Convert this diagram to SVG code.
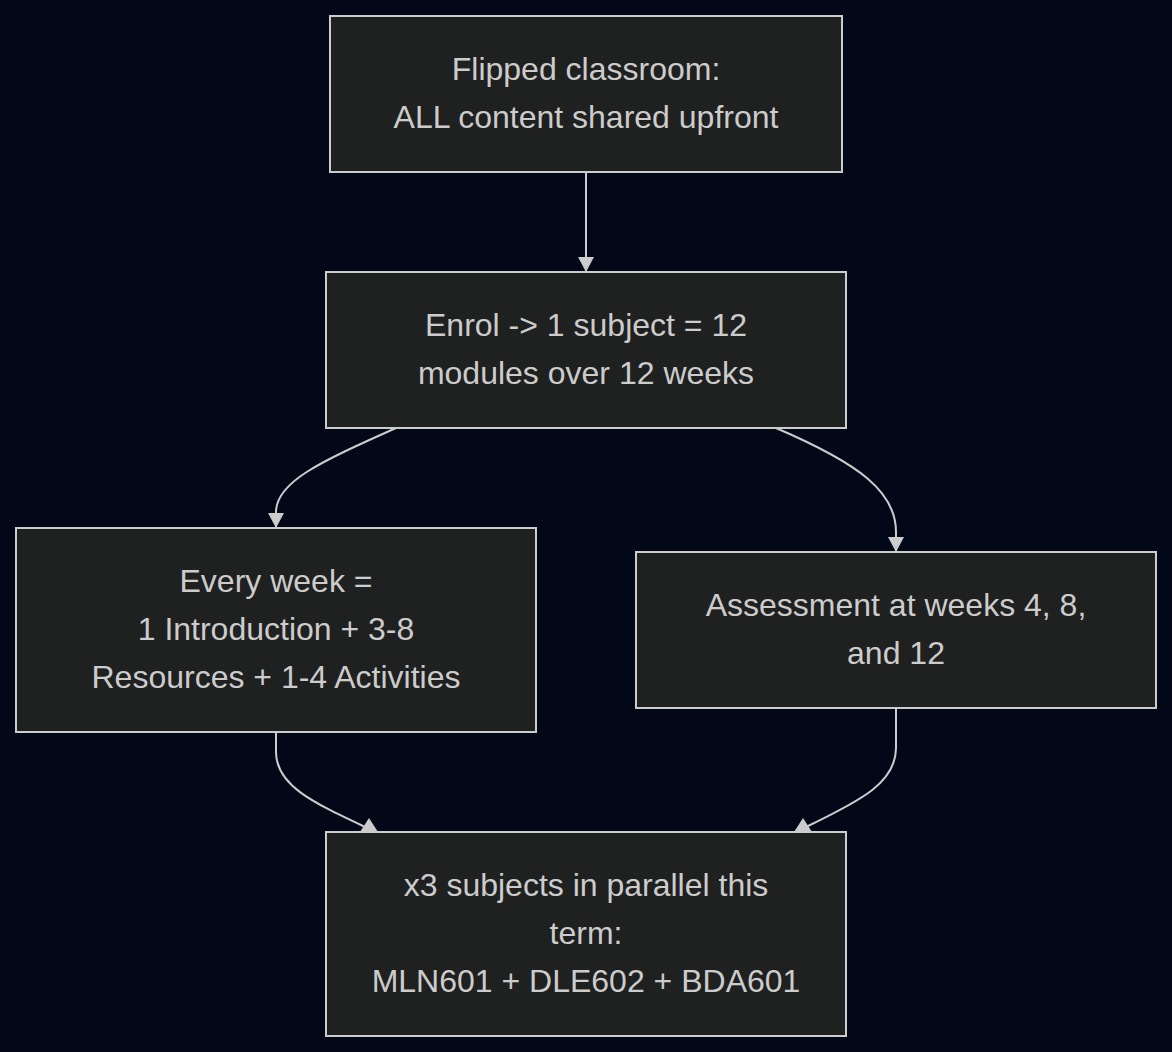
<svg xmlns="http://www.w3.org/2000/svg" width="1172" height="1052" viewBox="0 0 1172 1052">
<style>
.node rect{fill:#1f2020;stroke:#cccccc;stroke-width:2}
.node text{font-family:"Trebuchet MS","Liberation Sans",Arial,sans-serif;font-size:32px;fill:#cccccc;text-anchor:middle}
.edge{fill:none;stroke:#cccccc;stroke-width:2}
</style>
<defs>
<marker id="arrow" viewBox="0 0 15 16" markerWidth="15" markerHeight="16" refX="15" refY="8" orient="auto" markerUnits="userSpaceOnUse"><path d="M0,0 L15,8 L0,16 z" fill="#cccccc"/></marker>
<marker id="arrowUp" viewBox="0 0 14 18" markerWidth="14" markerHeight="18" refX="0" refY="9" orient="270" markerUnits="userSpaceOnUse"><path d="M0,0 L14,9 L0,18 z" fill="#cccccc"/></marker>
</defs>
<rect width="1172" height="1052" fill="#020817"/>
<g id="connectors">
<path class="edge" d="M586,172 L586,272" marker-end="url(#arrow)"/>
<path class="edge" d="M396,428 C320,462 276,482 276,512 L276,528" marker-end="url(#arrow)"/>
<path class="edge" d="M776,428 C860,464 896,492 896,532 L896,552" marker-end="url(#arrow)"/>
<path class="edge" d="M276,732 L276,752 C276,785 312,802 363,826 L369,832" marker-end="url(#arrowUp)"/>
<path class="edge" d="M896,708 L896,748 C896,782 862,800 808,826 L803,832" marker-end="url(#arrowUp)"/>
</g>
<g id="node1" class="node"><rect x="330" y="16" width="512" height="156"/><text x="586" y="80">Flipped classroom:</text><text x="586" y="128">ALL content shared upfront</text></g>
<g id="node2" class="node"><rect x="326" y="272" width="520" height="156"/><text x="586" y="336">Enrol -&gt; 1 subject = 12</text><text x="586" y="384">modules over 12 weeks</text></g>
<g id="node3" class="node"><rect x="16" y="528" width="520" height="204"/><text x="276" y="592">Every week =</text><text x="276" y="640">1 Introduction + 3-8</text><text x="276" y="688">Resources + 1-4 Activities</text></g>
<g id="node4" class="node"><rect x="636" y="552" width="520" height="156"/><text x="896" y="616">Assessment at weeks 4, 8,</text><text x="896" y="664">and 12</text></g>
<g id="node5" class="node"><rect x="326" y="832" width="520" height="204"/><text x="586" y="896">x3 subjects in parallel this</text><text x="586" y="944">term:</text><text x="586" y="992">MLN601 + DLE602 + BDA601</text></g>
</svg>
